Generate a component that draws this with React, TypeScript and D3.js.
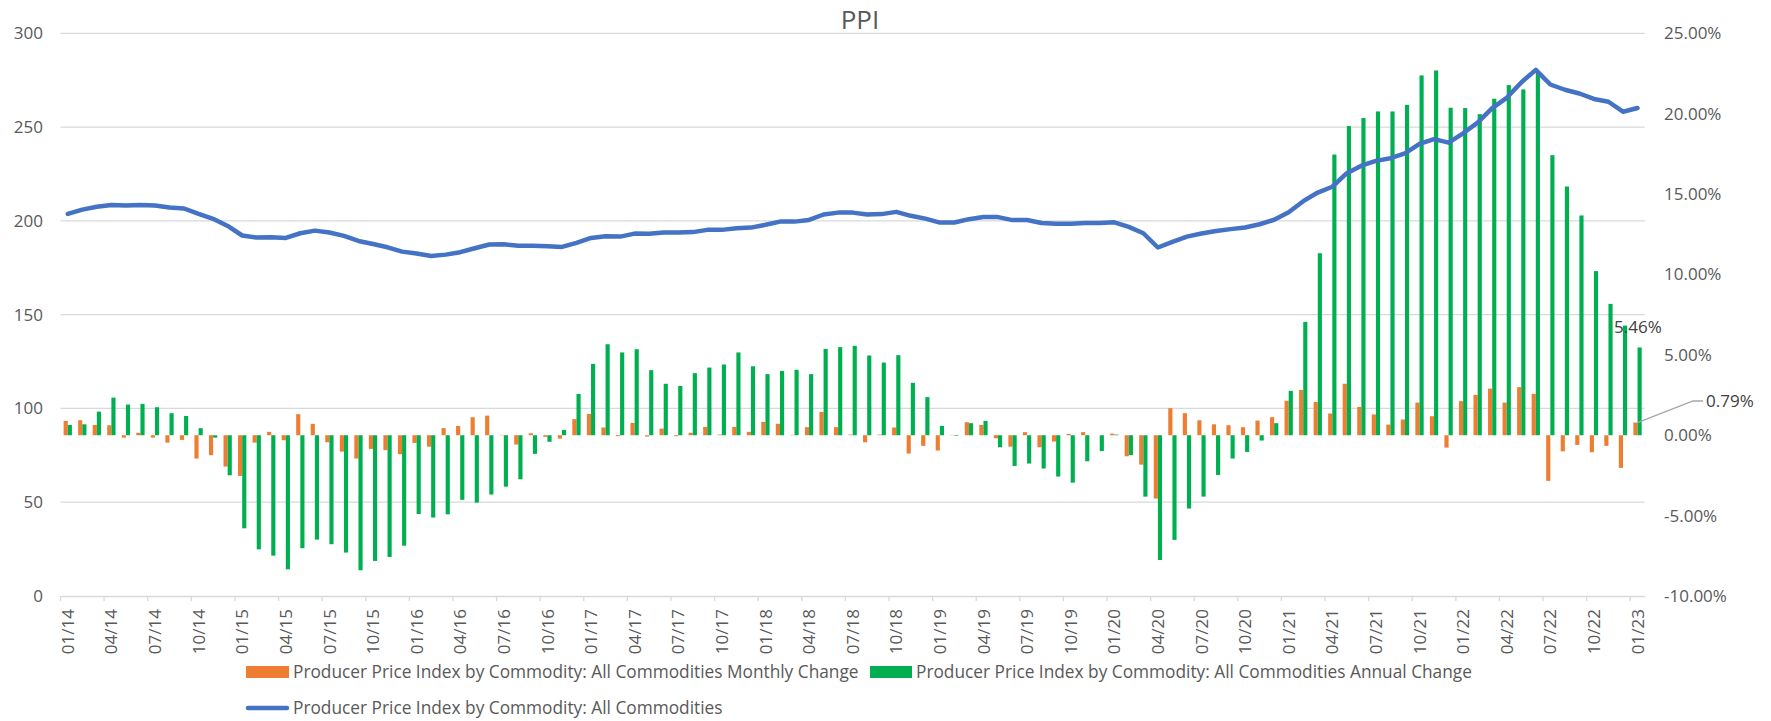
import React, { useEffect, useRef } from 'react';
import * as d3 from 'd3';

// monthly categories 01/14 .. 01/23
const months: string[] = d3.timeMonth
  .range(new Date(2014, 0, 1), new Date(2023, 1, 1))
  .map(d3.timeFormat('%m/%y'));

// PPI: All Commodities (index, left axis)
const ppiIndex = [
  203.7, 206.0, 207.5, 208.5, 208.2, 208.5, 208.2, 207.1, 206.6, 203.7, 201.1, 197.3,
  192.2, 191.1, 191.3, 190.9, 193.4, 194.8, 193.8, 192.0, 189.3, 187.7, 185.9, 183.6,
  182.6, 181.3, 182.0, 183.3, 185.4, 187.4, 187.5, 186.7, 186.7, 186.5, 186.1, 188.3,
  190.9, 191.8, 191.6, 193.2, 193.1, 193.8, 193.8, 194.0, 195.2, 195.2, 196.1, 196.4,
  197.9, 199.6, 199.6, 200.5, 203.4, 204.4, 204.4, 203.4, 203.6, 204.8, 202.7, 201.2,
  199.1, 199.1, 200.9, 202.1, 202.0, 200.4, 200.5, 198.9, 198.4, 198.4, 198.8, 198.8,
  199.2, 196.8, 193.4, 185.8, 188.8, 191.6, 193.3, 194.6, 195.6, 196.5, 198.2, 200.6,
  204.6, 210.5, 215.1, 218.2, 225.4, 229.4, 232.0, 233.4, 236.0, 241.0, 243.6, 241.7,
  246.7, 252.4, 260.1, 265.6, 273.8, 280.5, 272.7, 269.9, 267.9, 265.0, 263.5, 258.2,
  260.2,
];

// monthly change, % (right axis)
const monthlyChange = [
  0.89, 0.93, 0.64, 0.62, -0.15, 0.15, -0.15, -0.46, -0.29, -1.45, -1.24, -1.95,
  -2.53, -0.46, 0.21, -0.31, 1.31, 0.71, -0.44, -1.02, -1.45, -0.85, -0.93, -1.18,
  -0.48, -0.71, 0.44, 0.58, 1.12, 1.22, 0.02, -0.58, 0.12, -0.1, -0.21, 1.0,
  1.33, 0.48, -0.06, 0.77, -0.08, 0.41, -0.06, 0.15, 0.52, 0.04, 0.52, 0.21,
  0.83, 0.71, 0.02, 0.5, 1.45, 0.5, 0.04, -0.44, 0.04, 0.48, -1.14, -0.66,
  -0.95, 0.02, 0.81, 0.64, -0.19, -0.71, 0.19, -0.75, -0.39, 0.08, 0.19, 0.0,
  0.1, -1.31, -1.83, -3.94, 1.68, 1.37, 0.93, 0.68, 0.62, 0.5, 0.91, 1.12,
  2.14, 2.82, 2.07, 1.35, 3.2, 1.76, 1.29, 0.66, 0.98, 2.03, 1.18, -0.77,
  2.12, 2.51, 2.9, 2.03, 2.99, 2.57, -2.84, -1.0, -0.6, -1.06, -0.66, -2.03,
  0.79,
];

// annual change, % (right axis)
const annualChange = [
  0.64, 0.68, 1.47, 2.34, 1.91, 1.95, 1.74, 1.37, 1.2, 0.44, -0.15, -2.49,
  -5.79, -7.1, -7.49, -8.34, -7.03, -6.49, -6.78, -7.3, -8.4, -7.82, -7.57, -6.87,
  -4.9, -5.12, -4.92, -4.02, -4.19, -3.69, -3.2, -2.74, -1.16, -0.41, 0.33, 2.57,
  4.44, 5.66, 5.15, 5.35, 4.05, 3.2, 3.07, 3.86, 4.21, 4.4, 5.15, 4.29,
  3.8, 4.0, 4.07, 3.8, 5.37, 5.48, 5.56, 4.96, 4.52, 4.98, 3.26, 2.37,
  0.58, -0.04, 0.75, 0.89, -0.75, -1.91, -1.76, -2.07, -2.57, -2.95, -1.62, -0.98,
  0.04, -1.24, -3.82, -7.76, -6.51, -4.56, -3.82, -2.47, -1.45, -1.04, -0.33, 0.75,
  2.76, 7.05, 11.32, 17.46, 19.23, 19.73, 20.14, 20.14, 20.55, 22.38, 22.69, 20.37,
  20.35, 19.97, 20.93, 21.78, 21.51, 22.59, 17.42, 15.47, 13.67, 10.21, 8.17, 6.82,
  5.46,
];

const leftTicks = [0, 50, 100, 150, 200, 250, 300];
const rightTicks = [-10, -5, 0, 5, 10, 15, 20, 25];

const monthlyName = 'Producer Price Index by Commodity: All Commodities Monthly Change';
const annualName = 'Producer Price Index by Commodity: All Commodities Annual Change';
const indexName = 'Producer Price Index by Commodity: All Commodities';

const App: React.FC = () => {
  const svgRef = useRef<SVGSVGElement | null>(null);

  useEffect(() => {
    const svg = d3.select(svgRef.current);
    svg.selectAll('*').remove();

    const plot = { left: 60.5, right: 1644.8, top: 33.3, bottom: 596 };
    const font = "'Open Sans', sans-serif";
    const textColor = '#595959';
    const orange = '#ED7D31';
    const green = '#00B050';
    const blue = '#4472C4';

    const x = d3.scaleBand<string>().domain(months).range([plot.left, plot.right]);
    const yLeft = d3.scaleLinear().domain([0, 300]).range([plot.bottom, plot.top]);
    const yRight = d3.scaleLinear().domain([-10, 25]).range([plot.bottom, plot.top]);
    const cx = (m: string) => (x(m) || 0) + x.bandwidth() / 2;
    const barW = 4.15;

    // title
    svg
      .append('text')
      .attr('x', 860)
      .attr('y', 29)
      .attr('text-anchor', 'middle')
      .attr('font-family', font)
      .attr('font-size', 26)
      .attr('fill', textColor)
      .text('PPI');

    // gridlines follow the left axis
    svg
      .append('g')
      .selectAll('line')
      .data(leftTicks.filter((d) => d > 0))
      .join('line')
      .attr('x1', plot.left)
      .attr('x2', plot.right)
      .attr('y1', (d) => yLeft(d))
      .attr('y2', (d) => yLeft(d))
      .attr('stroke', '#D9D9D9')
      .attr('stroke-width', 1.3);

    // left axis
    const leftAxis = svg
      .append('g')
      .attr('transform', 'translate(43,0)')
      .call(d3.axisLeft(yLeft).tickValues(leftTicks).tickSize(0).tickPadding(0));
    leftAxis.select('.domain').remove();
    leftAxis
      .selectAll('text')
      .attr('font-family', font)
      .attr('font-size', 17)
      .attr('fill', textColor);

    // right axis
    const rightAxis = svg
      .append('g')
      .attr('transform', 'translate(1664,0)')
      .call(
        d3
          .axisRight(yRight)
          .tickValues(rightTicks)
          .tickSize(0)
          .tickPadding(0)
          .tickFormat((d) => `${Number(d).toFixed(2)}%`)
      );
    rightAxis.select('.domain').remove();
    rightAxis
      .selectAll('text')
      .attr('font-family', font)
      .attr('font-size', 17)
      .attr('fill', textColor);

    // bars
    const rows = months.map((m, i) => ({ m, mo: monthlyChange[i], yr: annualChange[i], idx: ppiIndex[i] }));

    svg
      .append('g')
      .selectAll('rect')
      .data(rows)
      .join('rect')
      .attr('x', (d) => cx(d.m) - barW)
      .attr('y', (d) => Math.min(yRight(0), yRight(d.mo)))
      .attr('width', barW)
      .attr('height', (d) => Math.abs(yRight(d.mo) - yRight(0)))
      .attr('fill', orange);

    svg
      .append('g')
      .selectAll('rect')
      .data(rows)
      .join('rect')
      .attr('x', (d) => cx(d.m))
      .attr('y', (d) => Math.min(yRight(0), yRight(d.yr)))
      .attr('width', barW)
      .attr('height', (d) => Math.abs(yRight(d.yr) - yRight(0)))
      .attr('fill', green);

    // x axis
    const xAxis = svg
      .append('g')
      .attr('transform', `translate(0,${plot.bottom})`)
      .call(
        d3
          .axisBottom(x)
          .tickValues(months.filter((_, i) => i % 3 === 0))
          .tickSize(0)
          .tickSizeOuter(0)
      );
    xAxis.select('.domain').attr('stroke', '#D9D9D9').attr('stroke-width', 1.3);
    xAxis
      .selectAll('text')
      .attr('transform', 'rotate(-90)')
      .attr('x', -13)
      .attr('y', 0)
      .attr('dy', '0.36em')
      .attr('text-anchor', 'end')
      .attr('font-family', font)
      .attr('font-size', 17)
      .attr('fill', textColor);

    // tick marks sit between categories, every third month
    svg
      .append('g')
      .selectAll('line')
      .data(months.filter((_, i) => i % 3 === 0))
      .join('line')
      .attr('x1', (d) => x(d) || 0)
      .attr('x2', (d) => x(d) || 0)
      .attr('y1', plot.bottom)
      .attr('y2', plot.bottom + 5)
      .attr('stroke', '#D9D9D9')
      .attr('stroke-width', 1.3);

    // index line
    const line = d3
      .line<{ m: string; idx: number }>()
      .x((d) => cx(d.m))
      .y((d) => yLeft(d.idx));

    svg
      .append('path')
      .datum(rows)
      .attr('d', line)
      .attr('fill', 'none')
      .attr('stroke', blue)
      .attr('stroke-width', 4.5)
      .attr('stroke-linejoin', 'round')
      .attr('stroke-linecap', 'round');

    // data labels on the last month
    const last = rows[rows.length - 1];
    svg
      .append('text')
      .attr('x', 1614)
      .attr('y', 327)
      .attr('dy', '0.35em')
      .attr('font-family', font)
      .attr('font-size', 17)
      .attr('fill', '#404040')
      .text(`${last.yr.toFixed(2)}%`);

    const ox = cx(last.m) - barW / 2;
    const oy = yRight(last.mo);
    svg
      .append('polyline')
      .attr('points', `${ox + 2},${oy} ${1693},${401} ${1703},${401}`)
      .attr('fill', 'none')
      .attr('stroke', '#A6A6A6')
      .attr('stroke-width', 1.3);
    svg
      .append('text')
      .attr('x', 1706)
      .attr('y', 401)
      .attr('dy', '0.35em')
      .attr('font-family', font)
      .attr('font-size', 17)
      .attr('fill', '#404040')
      .text(`${last.mo.toFixed(2)}%`);

    // legend
    const legend = svg
      .append('g')
      .attr('font-family', font)
      .attr('font-size', 17.3)
      .attr('fill', textColor);

    legend.append('rect').attr('x', 246).attr('y', 666).attr('width', 43).attr('height', 12).attr('fill', orange);
    legend.append('text').attr('x', 293).attr('y', 672).attr('dy', '0.35em').text(monthlyName);
    legend.append('rect').attr('x', 870).attr('y', 666).attr('width', 42).attr('height', 12).attr('fill', green);
    legend.append('text').attr('x', 916).attr('y', 672).attr('dy', '0.35em').text(annualName);
    legend
      .append('line')
      .attr('x1', 248)
      .attr('x2', 287)
      .attr('y1', 708)
      .attr('y2', 708)
      .attr('stroke', blue)
      .attr('stroke-width', 4.5)
      .attr('stroke-linecap', 'round');
    legend.append('text').attr('x', 293).attr('y', 708).attr('dy', '0.35em').text(indexName);
  }, []);

  return (
    <svg
      ref={svgRef}
      width={1771}
      height={721}
      style={{ position: 'absolute', left: 0, top: 0, background: '#fff' }}
    />
  );
};

export default App;
